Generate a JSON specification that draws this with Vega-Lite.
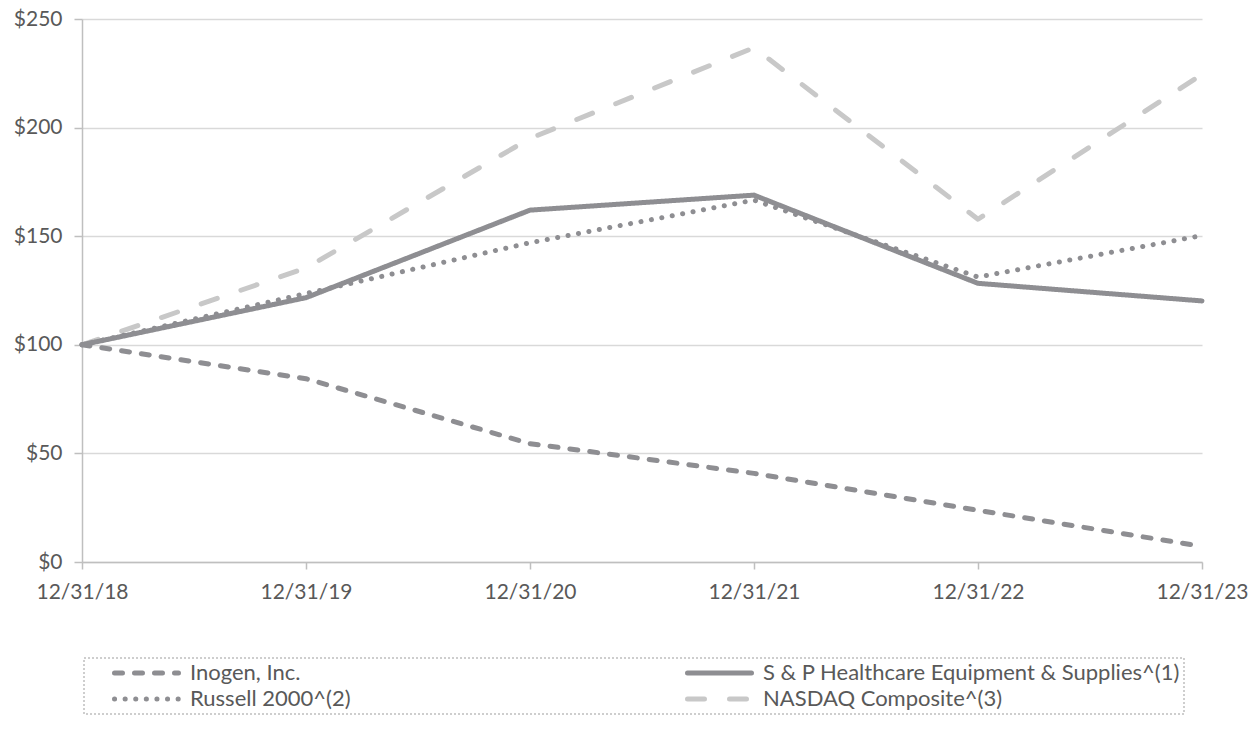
{
  "$schema": "https://vega.github.io/schema/vega-lite/v6.json",
  "width": 1120,
  "height": 543,
  "autosize": "none",
  "padding": {"left": 82, "top": 19, "right": 56, "bottom": 173},
  "background": "white",
  "config": {
    "view": {"stroke": null},
    "font": "Lato",
    "axis": {"labelFont": "Lato", "labelColor": "#595959", "labelFontSize": 21, "domainColor": "#bfbfbf", "tickColor": "#bfbfbf", "gridColor": "#d9d9d9", "domainWidth": 1.5, "tickWidth": 1.5, "gridWidth": 1.5}
  },
  "data": {
    "values": [
      {"date": "12/31/18", "series": "NASDAQ Composite^(3)", "value": 100},
      {"date": "12/31/19", "series": "NASDAQ Composite^(3)", "value": 135.4},
      {"date": "12/31/20", "series": "NASDAQ Composite^(3)", "value": 195.0},
      {"date": "12/31/21", "series": "NASDAQ Composite^(3)", "value": 236.8},
      {"date": "12/31/22", "series": "NASDAQ Composite^(3)", "value": 157.8},
      {"date": "12/31/23", "series": "NASDAQ Composite^(3)", "value": 224.5},
      {"date": "12/31/18", "series": "Russell 2000^(2)", "value": 100},
      {"date": "12/31/19", "series": "Russell 2000^(2)", "value": 123.6},
      {"date": "12/31/20", "series": "Russell 2000^(2)", "value": 147.0},
      {"date": "12/31/21", "series": "Russell 2000^(2)", "value": 166.6},
      {"date": "12/31/22", "series": "Russell 2000^(2)", "value": 131.2},
      {"date": "12/31/23", "series": "Russell 2000^(2)", "value": 150.3},
      {"date": "12/31/18", "series": "S & P Healthcare Equipment & Supplies^(1)", "value": 100},
      {"date": "12/31/19", "series": "S & P Healthcare Equipment & Supplies^(1)", "value": 121.7},
      {"date": "12/31/20", "series": "S & P Healthcare Equipment & Supplies^(1)", "value": 162.0},
      {"date": "12/31/21", "series": "S & P Healthcare Equipment & Supplies^(1)", "value": 168.9},
      {"date": "12/31/22", "series": "S & P Healthcare Equipment & Supplies^(1)", "value": 128.3},
      {"date": "12/31/23", "series": "S & P Healthcare Equipment & Supplies^(1)", "value": 120.2},
      {"date": "12/31/18", "series": "Inogen, Inc.", "value": 100},
      {"date": "12/31/19", "series": "Inogen, Inc.", "value": 84.4},
      {"date": "12/31/20", "series": "Inogen, Inc.", "value": 54.5},
      {"date": "12/31/21", "series": "Inogen, Inc.", "value": 40.8},
      {"date": "12/31/22", "series": "Inogen, Inc.", "value": 23.8},
      {"date": "12/31/23", "series": "Inogen, Inc.", "value": 7.2}
    ]
  },
  "mark": {"type": "line", "strokeWidth": 5, "strokeCap": "round", "strokeJoin": "round"},
  "encoding": {
    "x": {
      "field": "date", "type": "ordinal", "sort": null,
      "scale": {"type": "point", "padding": 0},
      "axis": {"title": null, "labelAngle": 0, "tickSize": 7, "labelPadding": 12, "grid": false}
    },
    "y": {
      "field": "value", "type": "quantitative",
      "scale": {"domain": [0, 250], "nice": false},
      "axis": {"title": null, "values": [0, 50, 100, 150, 200, 250], "format": "$.0f", "tickSize": 8, "labelPadding": 12, "grid": true}
    },
    "color": {
      "field": "series", "type": "nominal",
      "scale": {
        "domain": ["Inogen, Inc.", "Russell 2000^(2)", "S & P Healthcare Equipment & Supplies^(1)", "NASDAQ Composite^(3)"],
        "range": ["#8e8e92", "#8e8e92", "#8e8e92", "#c8c8c8"]
      },
      "legend": {
        "title": " ",
        "titleOrient": "left",
        "titleFontSize": 2,
        "titlePadding": 24,
        "orient": "none",
        "legendX": 2,
        "legendY": 639,
        "columns": 2,
        "columnPadding": 334,
        "rowPadding": 4,
        "padding": 4,
        "clipHeight": 22,
        "symbolType": "stroke",
        "symbolSize": 4096,
        "symbolStrokeWidth": 5,
        "labelFont": "Lato",
        "labelFontSize": 22,
        "labelColor": "#595959",
        "labelOffset": 9,
        "labelLimit": 600,
        "strokeColor": "#bfbfbf",
        "encode": {
          "legend": {"update": {"strokeDash": {"value": [2, 2]}, "strokeWidth": {"value": 1.5}}},
          "symbols": {"update": {"strokeCap": {"value": "round"}}}
        }
      }
    },
    "strokeDash": {
      "field": "series", "type": "nominal",
      "scale": {
        "domain": ["Inogen, Inc.", "Russell 2000^(2)", "S & P Healthcare Equipment & Supplies^(1)", "NASDAQ Composite^(3)"],
        "range": [[8, 12], [0.1, 10.5], [1, 0], [17, 25]]
      }
    }
  }
}
